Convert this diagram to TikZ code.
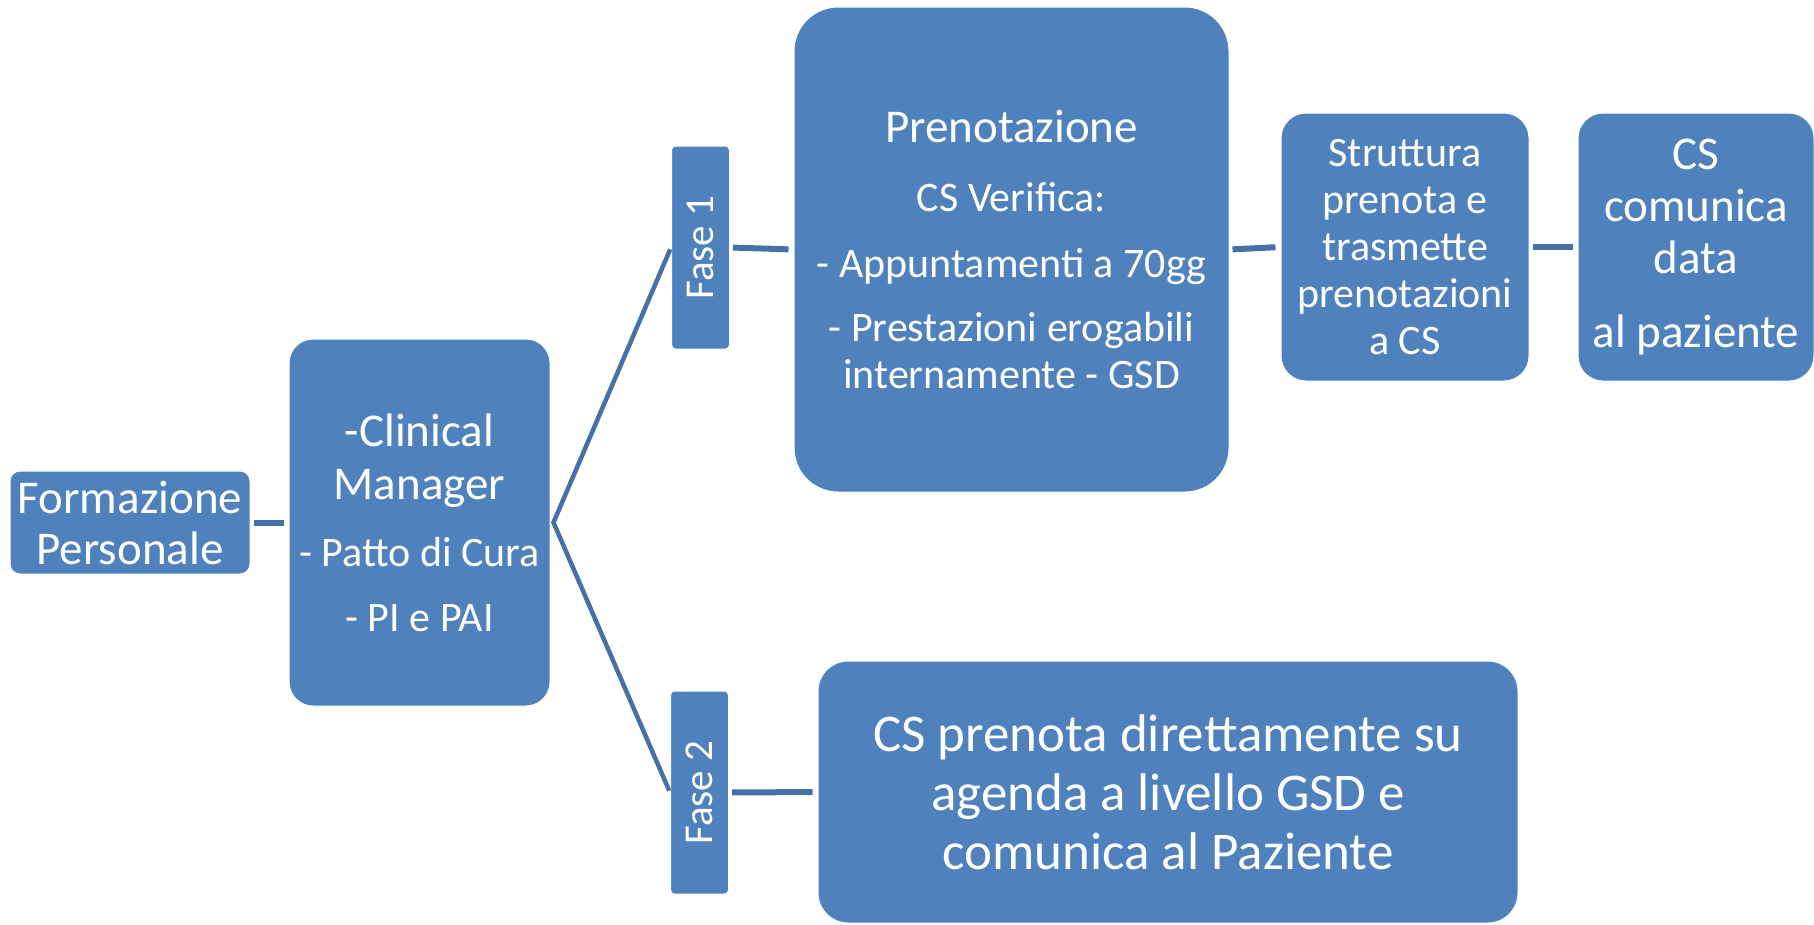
\documentclass[tikz,border=0pt]{standalone}
\usepackage{fontspec}
\setmainfont{Carlito}
\usepackage{graphicx}
\definecolor{boxblue}{RGB}{79,129,189}
\definecolor{linkblue}{RGB}{69,112,168}
\newcommand{\boxsize}[2]{\fontsize{#1}{#2}\selectfont\spaceskip=\fontdimen2\font\xspaceskip=\fontdimen2\font\relax}
\tikzset{
  box/.style={fill=boxblue, draw=white, line width=1pt, text=white, align=center, inner sep=0pt},
  fasebox/.style={box, rounded corners=4pt, minimum width=58pt, minimum height=203pt},
  link/.style={draw=linkblue, line width=6pt, shorten <=3pt, shorten >=5pt},
  branch/.style={draw=linkblue, line width=4.5pt, shorten <=2pt, shorten >=2pt}
}

\begin{document}
\begin{tikzpicture}[x=1pt,y=-1pt]
			\useasboundingbox (0,0) rectangle (1814,924);
			\node[box, rounded corners=10pt, minimum width=240pt, minimum height=103pt, text width=236pt] (form) at (130,522.5) {\boxsize{47}{51}Formazione\\Personale\par};
			\node[box, rounded corners=24pt, minimum width=261pt, minimum height=367pt, text width=255pt] (clin) at (419.5,522.5) {\boxsize{47}{53}-Clinical\\Manager\par
				\boxsize{42}{47}\vspace{20pt}- Patto di Cura\par\vspace{18pt}- PI e PAI\par};
			\node[fasebox] (fase1) at (700.5,247.5) {\boxsize{41}{45}\rotatebox{90}{Fase 1}};
			\node[fasebox] (fase2) at (699.5,792.5) {\boxsize{41}{45}\rotatebox{90}{Fase 2}};
			\node[box, rounded corners=44pt, minimum width=435pt, minimum height=485pt, text width=425pt] (pren) at (1011.5,249.5) {\boxsize{47}{51}Prenotazione\par
				\boxsize{42}{47}\vspace{22pt}CS Verifica:\par\vspace{19pt}- Appuntamenti a 70gg\par\vspace{17pt}- Prestazioni erogabili\\internamente - GSD\par};
			\node[box, rounded corners=25pt, minimum width=248pt, minimum height=268pt, text width=240pt] (strut) at (1405,247) {\boxsize{42}{47}Struttura\\prenota e\\trasmette\\prenotazioni\\a CS\par};
			\node[box, rounded corners=25pt, minimum width=236pt, minimum height=268pt, text width=230pt] (cscom) at (1696,247) {\boxsize{47}{52}CS\\comunica\\data\par\vspace{22pt}al paziente\par};
			\node[box, rounded corners=30pt, minimum width=700pt, minimum height=262pt, text width=690pt] (cspren) at (1168,792) {\boxsize{53}{59}CS prenota direttamente su\\agenda a livello GSD e\\comunica al Paziente\par};
			\coordinate (fork) at ([xshift=3pt]clin.east);
			\draw[link] (form.east) -- (clin.west);
			\draw[branch] (fase1.west) -- (fork) -- (fase2.west);
			\draw[link] (fase1.east) -- (pren.west);
			\draw[link] (pren.east) -- (strut.west);
			\draw[link] (strut.east) -- (cscom.west);
			\draw[link] (fase2.east) -- (cspren.west);
		\end{tikzpicture}
\end{document}
